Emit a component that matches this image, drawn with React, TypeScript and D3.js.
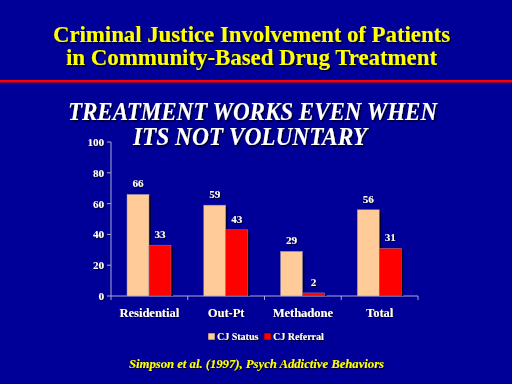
import React from 'react';
import * as d3 from 'd3';

const categories = ['Residential', 'Out-Pt', 'Methadone', 'Total'];
const seriesNames = ['CJ Status', 'CJ Referral'];
const cjStatus = [66, 59, 29, 56];
const cjReferral = [33, 43, 2, 31];
const yTicks = [0, 20, 40, 60, 80, 100];

const colors = ['#FFCC99', '#FF0000'];
const SERIF = 'Liberation Serif';

const App: React.FC = () => {
  const width = 512;
  const height = 384;

  const x = d3.scaleBand().domain(categories).range([111, 418]);
  const inner = d3.scaleBand().domain(seriesNames).range([16, 60]);
  const y = d3.scaleLinear().domain([0, 100]).range([296, 142]);

  const rows = categories.map((c, i) => ({ c, vals: [cjStatus[i], cjReferral[i]] }));

  return (
    <svg width={width} height={height} fontFamily={SERIF} style={{ position: 'absolute', left: 0, top: 0, display: 'block' }}>
      <defs>
        <filter id="sh" x="-5%" y="-20%" width="110%" height="150%">
          <feDropShadow dx={1.5} dy={1.5} stdDeviation={0} floodColor="#000022" floodOpacity={1} />
        </filter>
        <filter id="shs" x="-10%" y="-30%" width="120%" height="160%">
          <feDropShadow dx={1} dy={1} stdDeviation={0} floodColor="#000022" floodOpacity={1} />
        </filter>
      </defs>
      <rect width={width} height={height} fill="#000099" />

      {/* title */}
      <g fontFamily={SERIF} fontWeight="bold" fontSize={24} textAnchor="middle" fill="#FFFF00" filter="url(#sh)">
        <text x={251.5} y={41.5} textLength={397} lengthAdjust="spacingAndGlyphs">Criminal Justice Involvement of Patients</text>
        <text x={251.5} y={65} textLength={371} lengthAdjust="spacingAndGlyphs">in Community-Based Drug Treatment</text>
      </g>
      <rect x={0} y={80} width={width} height={2.5} fill="#FF0000" />

      {/* subtitle */}
      <g fontFamily={SERIF} fontWeight="bold" fontStyle="italic" fontSize={25} textAnchor="middle" fill="#FFFFFF" filter="url(#sh)">
        <text x={252.5} y={119.5} textLength={369} lengthAdjust="spacingAndGlyphs">TREATMENT WORKS EVEN WHEN</text>
        <text x={250} y={145} textLength={234} lengthAdjust="spacingAndGlyphs">ITS NOT VOLUNTARY</text>
      </g>

      {/* axes */}
      <g stroke="#AAAACC" strokeWidth={1}>
        <line x1={111} x2={111} y1={y(100)} y2={y(0)} />
        <line x1={111} x2={418} y1={y(0)} y2={y(0)} />
        {yTicks.map(t => (
          <line key={t} x1={107} x2={111} y1={y(t)} y2={y(t)} />
        ))}
        {[...categories.map(c => x(c) as number), 418].map((v, i) => (
          <line key={i} x1={v} x2={v} y1={y(0)} y2={y(0) + 4} />
        ))}
      </g>
      <g fontFamily={SERIF} fontWeight="bold" fontSize={11} fill="#FFFFFF" textAnchor="end" filter="url(#shs)">
        {yTicks.map(t => (
          <text key={t} x={104} y={y(t) + 4}>{t}</text>
        ))}
      </g>

      {/* bars */}
      {rows.map(r => (
        <g key={r.c} transform={`translate(${x(r.c)},0)`}>
          {r.vals.map((v, j) => {
            const bx = inner(seriesNames[j]) as number;
            const bw = inner.bandwidth();
            return (
              <g key={j}>
                <rect x={bx + 2} y={y(v) + 2} width={bw} height={y(0) - y(v) - 2} fill="#000033" />
                <rect x={bx} y={y(v)} width={bw} height={y(0) - y(v)} fill={colors[j]} stroke="#8888AA" strokeWidth={0.5} />
                <text x={bx + bw / 2} y={y(v) - 7} textAnchor="middle" fontFamily={SERIF} fontWeight="bold" fontSize={11} fill="#FFFFFF" filter="url(#shs)">{v}</text>
              </g>
            );
          })}
          <text x={x.bandwidth() / 2} y={317} textAnchor="middle" fontFamily={SERIF} fontWeight="bold" fontSize={12.5} fill="#FFFFFF" filter="url(#shs)">{r.c}</text>
        </g>
      ))}

      {/* legend */}
      <g fontFamily={SERIF} fontWeight="bold" fontSize={10} fill="#FFFFFF">
        {seriesNames.map((s, i) => {
          const lx = [208, 264][i];
          return (
            <g key={s}>
              <rect x={lx} y={333} width={7} height={7} fill={colors[i]} stroke="#000033" strokeWidth={0.5} />
              <text x={lx + 9} y={340} filter="url(#shs)">{s}</text>
            </g>
          );
        })}
      </g>

      {/* source */}
      <text x={256.5} y={368} textAnchor="middle" fontFamily={SERIF} fontWeight="bold" fontStyle="italic" fontSize={13.5} fill="#FFFF00" filter="url(#shs)" textLength={255} lengthAdjust="spacingAndGlyphs">
        Simpson et al. (1997), Psych Addictive Behaviors
      </text>
    </svg>
  );
};

export default App;
